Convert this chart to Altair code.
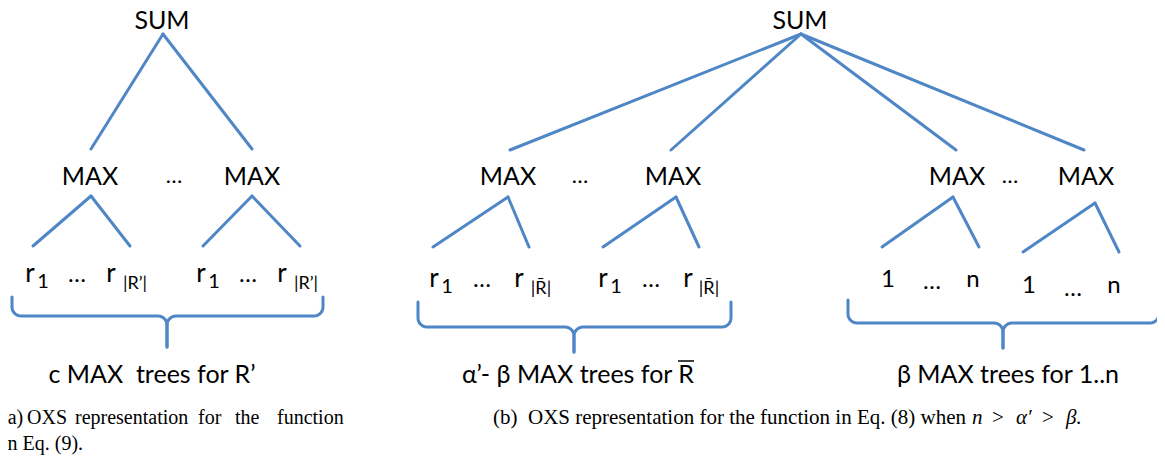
import altair as alt
import pandas as pd
import numpy as np

BLUE = "#4F86C6"

# ---------------- tree edges (x1, y1, x2, y2) ----------------
edge_x1 = [163, 163, 91, 91, 252, 252,
           801, 801, 801, 801,
           508, 508, 676, 676, 953, 953, 1095, 1095]
edge_y1 = [34, 34, 196, 196, 196, 196,
           34, 34, 34, 34,
           197, 197, 197, 197, 197, 197, 203, 203]
edge_x2 = [91, 252, 33, 130, 203, 300,
           510, 671, 956, 1084,
           433, 529, 603, 699, 882, 979, 1023, 1119]
edge_y2 = [149, 149, 246, 246, 246, 246,
           150, 150, 150, 150,
           247, 247, 247, 247, 247, 247, 252, 252]

# ---------------- braces ----------------
brace_left = [12, 418, 848]
brace_mid = [167, 574, 1003]
brace_right = [323, 731, 1159]
brace_top = [297, 302, 300]
brace_h = [316, 327, 323]
brace_tip = [347, 352, 348]

# ---------------- Lato labels ----------------
lab_text = ["SUM", "SUM",
            "MAX", "MAX", "MAX", "MAX", "MAX", "MAX",
            "…", "…", "…",
            "r", "1", "…", "r", "r", "1", "…", "r",
            "r", "1", "…", "r", "r", "1", "…", "r",
            "1", "…", "n", "1", "…", "n",
            "|R’|", "|R’|", "|R\u0304|", "|R\u0304|",
            "c MAX\u00a0 trees for R’", "α’- β MAX trees for R", "β MAX trees for 1..n"]
lab_x = [162, 800,
         90, 252, 508, 673, 957, 1086,
         174, 580, 1010,
         30, 43, 77, 111, 201, 214, 248, 282,
         434, 447, 482, 519, 603, 616, 651, 688,
         888, 932, 973, 1029, 1073, 1114,
         135, 306, 541, 709,
         152, 578, 1008]
lab_y = [29, 29,
         185, 185, 185, 185, 185, 185,
         183, 183, 183,
         282, 288, 282, 282, 282, 288, 282, 282,
         287, 293, 287, 287, 287, 293, 287, 287,
         287, 289, 287, 293, 296, 293,
         289, 289, 294, 294,
         383, 383, 383]
lab_size = [25, 25,
            25, 25, 25, 25, 25, 25,
            22, 22, 22,
            26, 20, 24, 26, 26, 20, 24, 26,
            26, 20, 24, 26, 26, 20, 24, 26,
            24, 24, 24, 24, 24, 24,
            18, 18, 18, 18,
            25, 25, 25]

# overline for R-bar in the brace label
bar_x1 = [678]
bar_x2 = [694]
bar_y = [361]

# ---------------- captions (Times-like) ----------------
cap_text = ["(a)", "OXS", "representation", "for", "the", "function",
            "in Eq. (9).",
            "(b)\u00a0 OXS representation for the function in Eq. (8) when"]
cap_x = [1, 27, 75, 198, 235, 277,
         2,
         493]
cap_y = [424, 424, 424, 424, 424, 424,
         450,
         424]
cap_size = [20, 20, 20, 20, 20, 20, 20, 21]

math_text = ["n", ">", "α′", ">", "β."]
math_style = ["italic", "normal", "italic", "normal", "italic"]
math_x = [972, 992, 1016, 1042, 1066]
math_y = [424, 424, 424, 424, 424]

# ---------------- build tables ----------------
edges = pd.DataFrame({"x": edge_x1, "y": edge_y1, "x2": edge_x2, "y2": edge_y2})

rows = []
for b, (l, m, r, t, h, tip) in enumerate(zip(brace_left, brace_mid, brace_right,
                                            brace_top, brace_h, brace_tip)):
    rad = 9
    for side, sgn, end in (("L", 1, l), ("R", -1, r)):
        pts = [(end, t), (end, h - rad)]
        for a in np.linspace(np.pi, np.pi / 2, 8):
            pts.append((end + sgn * rad + sgn * rad * np.cos(a), h - rad + rad * np.sin(a)))
        for a in np.linspace(-np.pi / 2, 0, 8):
            pts.append((m - sgn * rad + sgn * rad * np.cos(a), h + rad + rad * np.sin(a)))
        pts.append((m, tip))
        for i, (px, py) in enumerate(pts):
            rows.append({"id": f"{b}{side}", "o": i, "x": px, "y": py})
braces = pd.DataFrame(rows)

labels = pd.DataFrame({"t": lab_text, "x": lab_x, "y": lab_y, "s": lab_size})
bars = pd.DataFrame({"x": bar_x1, "x2": bar_x2, "y": bar_y})
caps = pd.DataFrame({"t": cap_text, "x": cap_x, "y": cap_y, "s": cap_size})
maths = pd.DataFrame({"t": math_text, "x": math_x, "y": math_y, "st": math_style})

W, H = 1149, 450
xs = alt.Scale(domain=[8, 8 + W], nice=False, zero=False)
ys = alt.Scale(domain=[8, 8 + H], nice=False, zero=False, reverse=True)
X = lambda f="x": alt.X(f"{f}:Q", scale=xs, axis=None)
Y = lambda f="y": alt.Y(f"{f}:Q", scale=ys, axis=None)

edge_layer = alt.Chart(edges).mark_rule(color=BLUE, strokeWidth=3, strokeCap="round").encode(
    x=X(), y=Y(), x2="x2:Q", y2="y2:Q")

brace_layer = alt.Chart(braces).mark_line(color=BLUE, strokeWidth=3, strokeCap="round",
                                          strokeJoin="round").encode(
    x=X(), y=Y(), detail="id:N", order="o:Q")

label_layer = alt.Chart(labels).mark_text(font="Lato", baseline="alphabetic", align="center",
                                          color="#000000").encode(
    x=X(), y=Y(), text="t:N", size=alt.Size("s:Q", scale=None))

bar_layer = alt.Chart(bars).mark_rule(color="#000000", strokeWidth=1.5).encode(
    x=X(), x2="x2:Q", y=Y())

cap_layer = alt.Chart(caps).mark_text(font="Liberation Serif", baseline="alphabetic",
                                      align="left", color="#000000").encode(
    x=X(), y=Y(), text="t:N", size=alt.Size("s:Q", scale=None))

math_it = alt.Chart(maths).transform_filter(alt.datum.st == "italic").mark_text(
    font="Liberation Serif", fontSize=21, fontStyle="italic",
    baseline="alphabetic", align="left", color="#000000").encode(
    x=X(), y=Y(), text="t:N")

math_up = alt.Chart(maths).transform_filter(alt.datum.st == "normal").mark_text(
    font="Liberation Serif", fontSize=21,
    baseline="alphabetic", align="left", color="#000000").encode(
    x=X(), y=Y(), text="t:N")

chart = alt.layer(edge_layer, brace_layer, label_layer, bar_layer, cap_layer,
                  math_it, math_up).properties(
    width=W, height=H, padding=0, autosize=alt.AutoSizeParams(type="none")
).configure_view(stroke=None)

chart.save("out.html", embed_options={"renderer": "svg", "actions": False})
